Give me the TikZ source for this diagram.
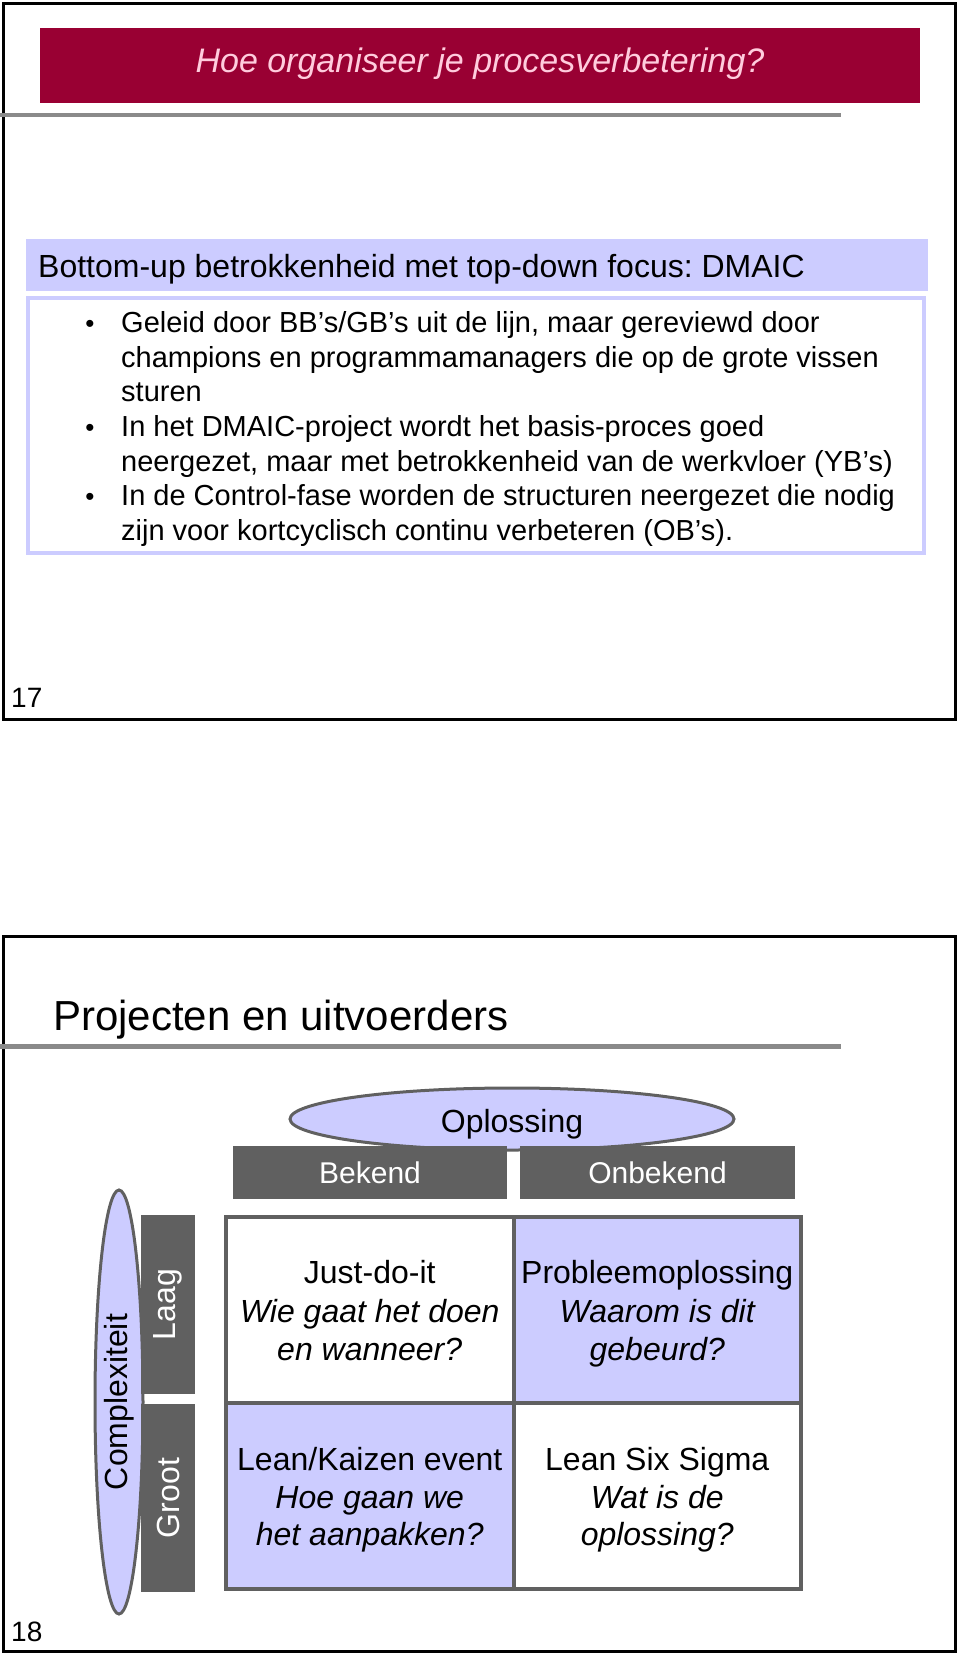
\documentclass[tikz,border=0pt]{standalone}
\usepackage{fontspec}
\setmainfont{Liberation Sans}
\usetikzlibrary{shapes.geometric}
\definecolor{crimson}{RGB}{153,0,51}
\definecolor{pinktxt}{RGB}{255,204,221}
\definecolor{lav}{RGB}{204,204,255}
\definecolor{dgray}{RGB}{96,96,96}
\definecolor{rulegray}{RGB}{138,138,138}
\frenchspacing
\begin{document}
\begin{tikzpicture}[x=1pt,y=-1pt,
  frame/.style={draw=black,line width=3pt},
  rulebar/.style={fill=rulegray},
  hdr/.style={fill=dgray,text=white,inner sep=0pt,font=\fontsize{30}{36}\selectfont},
  vhdr/.style={hdr,rotate=90,font=\fontsize{32}{38}\selectfont},
  ovalbox/.style={ellipse,draw=dgray,fill=lav,line width=3pt,inner sep=0pt},
  cell/.style={draw=dgray,line width=4pt,inner sep=0pt,minimum width=287.5pt,minimum height=186pt},
  celltxt/.style={anchor=base,inner sep=0pt,font=\fontsize{32}{38}\selectfont},
  bodytxt/.style={anchor=base west,inner sep=0pt,font=\fontsize{29}{35}\selectfont},
  bul/.style={anchor=base,inner sep=0pt,font=\fontsize{26}{35}\selectfont},
  pagenum/.style={anchor=base west,inner sep=0pt,font=\fontsize{28}{34}\selectfont}]
\useasboundingbox (0,0) rectangle (960,1654);
% ---------- slide 17 ----------
\draw[frame] (3.5,3.5) rectangle (955.5,719);
\fill[crimson] (40,28) rectangle (920,103);
\node[anchor=base,inner sep=0pt,text=pinktxt,font=\fontsize{34}{40}\selectfont\itshape] (t1) at (480,72) {Hoe organiseer je procesverbetering?};
\fill[rulegray] (0,113) rectangle (841,117);
\fill[lav] (26,239) rectangle (928,291);
\node[anchor=base west,inner sep=0pt,font=\fontsize{32}{38}\selectfont] (h1) at (38,277) {Bottom-up betrokkenheid met top-down focus: DMAIC};
\draw[lav,line width=4pt] (28,298) rectangle (924,553);
\node[bul] (b1) at (90,332) {•};
\node[bodytxt] (l1) at (121,332) {Geleid door BB’s/GB’s uit de lijn, maar gereviewd door};
\node[bodytxt] (l2) at (121,367) {champions en programmamanagers die op de grote vissen};
\node[bodytxt] (l3) at (121,401) {sturen};
\node[bul] (b2) at (90,436) {•};
\node[bodytxt] (l4) at (121,436) {In het DMAIC-project wordt het basis-proces goed};
\node[bodytxt] (l5) at (121,471) {neergezet, maar met betrokkenheid van de werkvloer (YB’s)};
\node[bul] (b3) at (90,505) {•};
\node[bodytxt] (l6) at (121,505) {In de Control-fase worden de structuren neergezet die nodig};
\node[bodytxt] (l7) at (121,540) {zijn voor kortcyclisch continu verbeteren (OB’s).};
\node[pagenum] (p17) at (11,707) {17};
% ---------- slide 18 ----------
\draw[frame] (3.5,936.5) rectangle (955.5,1651);
\node[anchor=base west,inner sep=0pt,font=\fontsize{42}{50}\selectfont] (t2) at (53,1030) {Projecten en uitvoerders};
\fill[rulegray] (0,1044) rectangle (841,1049);
% top axis
\node[ovalbox,minimum width=444pt,minimum height=62pt] (opl) at (512,1119) {};
\node[anchor=base,inner sep=0pt,font=\fontsize{32}{38}\selectfont] (opltxt) at (512,1132) {Oplossing};
\node[hdr,minimum width=274pt,minimum height=53pt] (bek) at (370,1172.5) {Bekend};
\node[hdr,minimum width=275pt,minimum height=53pt] (onb) at (657.5,1172.5) {Onbekend};
% left axis
\node[ovalbox,rotate=90,minimum width=424pt,minimum height=48pt,font=\fontsize{32}{38}\selectfont] (cpx) at (119,1402) {Complexiteit};
\node[vhdr,minimum width=179pt,minimum height=54pt] (laag) at (168,1304.5) {Laag};
\node[vhdr,minimum width=188pt,minimum height=54pt] (groot) at (168,1498) {Groot};
% matrix
\node[cell,fill=white] (tl) at (369.75,1310) {};
\node[cell,fill=lav] (tr) at (657.25,1310) {};
\node[cell,fill=lav] (bl) at (369.75,1496) {};
\node[cell,fill=white] (br) at (657.25,1496) {};
\node[celltxt] (tl1) at (369.75,1283) {Just-do-it};
\node[celltxt] (tl2) at (369.75,1322) {\itshape Wie gaat het doen};
\node[celltxt] (tl3) at (369.75,1360) {\itshape en wanneer?};
\node[celltxt] (tr1) at (657.25,1283) {Probleemoplossing};
\node[celltxt] (tr2) at (657.25,1322) {\itshape Waarom is dit};
\node[celltxt] (tr3) at (657.25,1360) {\itshape gebeurd?};
\node[celltxt] (bl1) at (369.75,1470) {Lean/Kaizen event};
\node[celltxt] (bl2) at (369.75,1508) {\itshape Hoe gaan we};
\node[celltxt] (bl3) at (369.75,1545) {\itshape het aanpakken?};
\node[celltxt] (br1) at (657.25,1470) {Lean Six Sigma};
\node[celltxt] (br2) at (657.25,1508) {\itshape Wat is de};
\node[celltxt] (br3) at (657.25,1545) {\itshape oplossing?};
\node[pagenum] (p18) at (11,1641) {18};
\end{tikzpicture}
\end{document}
